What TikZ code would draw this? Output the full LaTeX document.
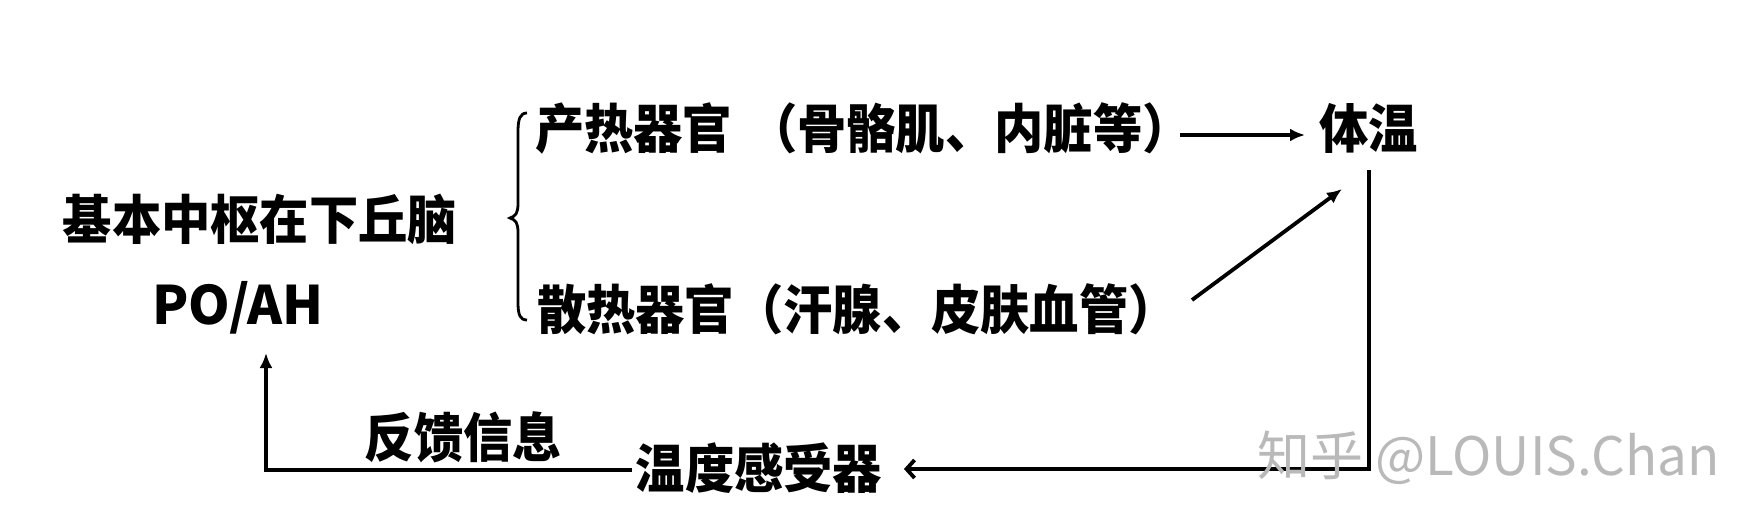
\documentclass[tikz,border=0pt]{standalone}
\usepackage{fontspec}
\newfontfamily\cjkb{Noto Sans CJK SC Black}[FakeStretch=0.93]
\newfontfamily\latb{Noto Sans CJK SC Black}
\newfontfamily\cjkr{Noto Sans CJK SC}
\usetikzlibrary{arrows.meta}
\begin{document}
\begin{tikzpicture}[x=1pt,y=-1pt,
  lbl/.style={font=\cjkb\fontsize{53}{60}\selectfont, inner sep=0pt, outer sep=0pt},
  latlbl/.style={font=\latb\fontsize{53}{60}\selectfont, inner sep=0pt, outer sep=0pt},
  wmk/.style={font=\cjkr\fontsize{53}{62}\selectfont, inner sep=0pt, anchor=west, text=gray!55},
  conn/.style={line width=3.8pt},
  arr/.style={conn, -{Latex[length=15pt,width=13pt]}},
  openarr/.style={conn, -{Straight Barb[length=8pt,width=18pt,line width=3.8pt]}},
  bracepath/.style={line width=2.8pt}]
\useasboundingbox (0,0) rectangle (1764,527);
\fill[white] (0,0) rectangle (1764,527);
% nodes
\node[lbl] (ctr) at (260,219) {基本中枢在下丘脑};
\node[latlbl] (po) at (238,307.5) {PO/AH};
\node[lbl, anchor=west] (prod) at (535,128.5) {产热器官\hspace{0.3em}（骨骼肌、内脏等）};
\node[lbl, anchor=west] (diss) at (537,309) {散热器官（汗腺、皮肤血管）};
\node[lbl] (temp) at (1368.5,128) {体温};
\node[lbl] (sens) at (759,468) {温度感受器};
\node[lbl] (fb) at (463.5,437) {反馈信息};
% brace
\draw[bracepath] (527,113) .. controls (520,113) and (518,119) .. (518,132)
  -- (518,203) .. controls (518,213) and (516,216) .. (510,218)
  .. controls (516,220) and (518,223) .. (518,233)
  -- (518,302) .. controls (518,315) and (520,320) .. (527,320);
% coordinates
\coordinate (a0) at (1180,135);
\coordinate (a1) at (1305,135);
\coordinate (d0) at (1192,300);
\coordinate (d1) at (1342,189);
\coordinate (vtop) at (1369,170);
\coordinate (vbot) at (1369,469);
\coordinate (sensr) at (904,469);
\coordinate (fbr) at (632,470);
\coordinate (fbl) at (266,470);
\coordinate (potip) at (266,353);
% connectors
\draw[arr] (a0) -- (a1);
\draw[arr] (d0) -- (d1);
\draw[openarr] (vtop) -- (vbot) -- (sensr);
\draw[arr] (fbr) -- (fbl) -- (potip);
% watermark
\node[wmk] (wm) at (1257,458) {知乎 @LOUIS.Chan};
\end{tikzpicture}
\end{document}
